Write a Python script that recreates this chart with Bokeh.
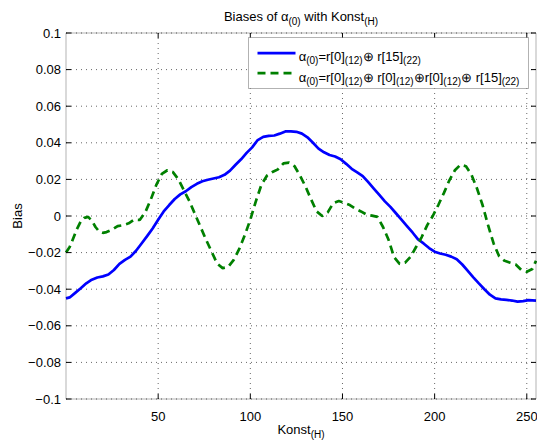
import math
from bokeh.plotting import figure
from bokeh.models import Range1d, Label, BoxAnnotation, Arrow
from bokeh.embed import file_html
from bokeh.resources import INLINE

# ---------------- data ----------------
konst_blue = [0, 2, 5, 8, 11, 14, 17, 20, 23, 26, 29, 32, 35, 38, 41, 44, 47, 50, 53, 56,
              59, 62, 65, 68, 71, 74, 77, 80, 83, 86, 89, 92, 95, 98, 101, 104, 107, 110,
              113, 116, 119, 122, 125, 128, 131, 134, 137, 140, 143, 146, 149, 152, 155,
              158, 161, 164, 167, 170, 173, 176, 179, 182, 185, 188, 191, 194, 197, 200,
              203, 206, 209, 212, 215, 218, 221, 224, 227, 230, 233, 236, 239, 242, 245,
              248, 251, 255]
bias_blue = [-0.0450, -0.0445, -0.0420, -0.0395, -0.0368, -0.0348, -0.0336, -0.0330,
             -0.0320, -0.0295, -0.0262, -0.0240, -0.0222, -0.0190, -0.0150, -0.0110,
             -0.0068, -0.0020, 0.0025, 0.0060, 0.0093, 0.0118, 0.0135, 0.0158, 0.0176,
             0.0190, 0.0198, 0.0205, 0.0212, 0.0225, 0.0248, 0.0280, 0.0310, 0.0345,
             0.0375, 0.0415, 0.0432, 0.0438, 0.0440, 0.0450, 0.0462, 0.0462, 0.0460,
             0.0450, 0.0430, 0.0400, 0.0368, 0.0348, 0.0333, 0.0325, 0.0310, 0.0285,
             0.0258, 0.0238, 0.0218, 0.0185, 0.0150, 0.0115, 0.0080, 0.0050, 0.0015,
             -0.0020, -0.0055, -0.0090, -0.0128, -0.0150, -0.0175, -0.0195, -0.0205,
             -0.0212, -0.0222, -0.0236, -0.0265, -0.0300, -0.0335, -0.0368, -0.0400,
             -0.0430, -0.0450, -0.0456, -0.0458, -0.0462, -0.0468, -0.0465, -0.0460,
             -0.0462]

konst_green = [0, 2, 4, 6, 8, 10, 12, 14, 16, 18, 20, 22, 25, 28, 31, 34, 37, 40, 43, 46,
               49, 52, 55, 58, 61, 64, 67, 70, 73, 76, 79, 82, 85, 88, 91, 94, 97, 100,
               103, 106, 109, 112, 115, 118, 121, 124, 127, 130, 133, 136, 139, 142, 145,
               148, 151, 154, 157, 160, 163, 166, 169, 172, 175, 178, 181, 184, 187, 190,
               193, 196, 199, 202, 205, 208, 211, 214, 217, 220, 223, 226, 229, 232, 235,
               238, 241, 244, 247, 250, 253, 255]
bias_green = [-0.0200, -0.0170, -0.0120, -0.0070, -0.0030, -0.0010, -0.0005, -0.0025,
              -0.0060, -0.0085, -0.0092, -0.0088, -0.0075, -0.0055, -0.0050, -0.0040,
              -0.0020, -0.0022, 0.0020, 0.0090, 0.0170, 0.0230, 0.0250, 0.0240, 0.0200,
              0.0140, 0.0080, 0.0010, -0.0060, -0.0130, -0.0195, -0.0260, -0.0285,
              -0.0278, -0.0240, -0.0180, -0.0105, -0.0020, 0.0080, 0.0170, 0.0220, 0.0240,
              0.0255, 0.0288, 0.0292, 0.0272, 0.0220, 0.0160, 0.0090, 0.0025, 0.0000,
              0.0020, 0.0070, 0.0082, 0.0072, 0.0060, 0.0040, 0.0025, 0.0008, 0.0002,
              -0.0005, -0.0060, -0.0130, -0.0225, -0.0262, -0.0255, -0.0222, -0.0168,
              -0.0115, -0.0050, 0.0000, 0.0060, 0.0125, 0.0195, 0.0250, 0.0280, 0.0272,
              0.0225, 0.0150, 0.0060, -0.0050, -0.0150, -0.0220, -0.0245, -0.0255,
              -0.0265, -0.0295, -0.0305, -0.0290, -0.0245]

x_lim = [0, 255]
y_lim = [-0.1, 0.1]
x_ticks = [50, 100, 150, 200, 250]
y_ticks = [-0.1, -0.08, -0.06, -0.04, -0.02, 0, 0.02, 0.04, 0.06, 0.08, 0.1]

title_parts = [("Biases of α", False), ("(0)", True), (" with Konst", False), ("(H)", True)]
xlabel_parts = [("Konst", False), ("(H)", True)]
ylabel_text = "Bias"
legend1_parts = [("α", False), ("(0)", True), ("=r[0]", False), ("(12)", True),
                 ("⊕ r[15]", False), ("(22)", True)]
legend2_parts = [("α", False), ("(0)", True), ("=r[0]", False), ("(12)", True),
                 ("⊕ r[0]", False), ("(12)", True), ("⊕r[0]", False), ("(12)", True),
                 ("⊕ r[15]", False), ("(22)", True)]

BLUE = "#0000ff"
GREEN = "#008000"
FONT = "Liberation Sans"
MAIN = 13
SUB = 10

# ---------------- layout (pixels) ----------------
W, H = 537, 446
PX_L, PX_R, PX_T, PX_B = 65.5, 535.5, 32.5, 398.5
sx = (PX_R - PX_L) / (x_lim[1] - x_lim[0])
sy = (PX_B - PX_T) / (y_lim[1] - y_lim[0])

p = figure(width=W, height=H,
           x_range=Range1d(x_lim[0] - PX_L / sx, x_lim[1] + (W - PX_R) / sx),
           y_range=Range1d(y_lim[0] - (H - PX_B) / sy, y_lim[1] + PX_T / sy),
           title=None, x_axis_location=None, y_axis_location=None, min_border=0,
           output_backend="svg", toolbar_location=None, tools="")
p.outline_line_color = None
p.background_fill_color = "white"
p.border_fill_color = "white"
for g in p.grid:
    g.visible = False

# grid (dotted), drawn from the tick arrays
p.segment(x0=x_ticks, y0=y_lim[0], x1=x_ticks, y1=y_lim[1], line_color="black",
          line_alpha=0.6, line_dash="1 4", line_width=1)
p.segment(x0=x_lim[0], y0=y_ticks, x1=x_lim[1], y1=y_ticks, line_color="black",
          line_alpha=0.6, line_dash="1 4", line_width=1)

# data lines
p.line(konst_blue, bias_blue, line_color=BLUE, line_width=2.7)
p.line(konst_green, bias_green, line_color=GREEN, line_width=2.7, line_dash="8 5")

# inward ticks on all four sides
TICK = 5
p.ray(x=x_ticks, y=y_lim[0], length=TICK, length_units="screen", angle=math.pi / 2,
      line_color="black", line_width=1)
p.ray(x=x_ticks, y=y_lim[1], length=TICK, length_units="screen", angle=-math.pi / 2,
      line_color="black", line_width=1)
p.ray(x=x_lim[0], y=y_ticks, length=TICK, length_units="screen", angle=0,
      line_color="black", line_width=1)
p.ray(x=x_lim[1], y=y_ticks, length=TICK, length_units="screen", angle=math.pi,
      line_color="black", line_width=1)

# axes box
p.add_layout(BoxAnnotation(left=x_lim[0], right=x_lim[1], bottom=y_lim[0], top=y_lim[1],
                           fill_color=None, line_color="black", line_width=1))

# ---------------- texts ----------------
def Y(py):  # canvas px (from top) -> screen units (from bottom)
    return H - py

def ytick_text(v):
    s = f"{abs(v):g}"
    return ("\u2212" + s) if v < 0 else s

for t in x_ticks:
    p.add_layout(Label(x=t, x_units="data", y=Y(416.3), y_units="screen", text=str(t),
                       text_font=FONT, text_font_size=f"{MAIN}px", text_align="center",
                       text_baseline="alphabetic", text_color="black"))
for t in y_ticks:
    p.add_layout(Label(x=60.5, x_units="screen", y=t, y_units="data", text=ytick_text(t),
                       text_font=FONT, text_font_size=f"{MAIN}px", text_align="right",
                       text_baseline="middle", text_color="black"))

WID = {' ': 278, '(': 333, ')': 333, '=': 584, 'r': 333, '[': 278, ']': 278, 'α': 570,
       '⊕': 838, 'B': 667, 'i': 222, 'a': 556, 's': 500, 'e': 556, 'o': 556, 'f': 278,
       'w': 722, 't': 278, 'h': 556, 'K': 667, 'n': 556, 'H': 722}

def tw(s, size):
    return sum(WID.get(c, 556) for c in s) * size / 1000.0

def parts_width(parts):
    return sum(tw(t, SUB if s else MAIN) for t, s in parts)

def place(parts, x0, base_py, drop=4):
    x = x0
    for t, is_sub in parts:
        size = SUB if is_sub else MAIN
        lead = len(t) - len(t.lstrip(" "))
        x += lead * WID[' '] * size / 1000.0
        core = t.strip(" ")
        p.add_layout(Label(x=x, y=Y(base_py + (drop if is_sub else 0)), x_units="screen",
                           y_units="screen", text=core, text_font=FONT,
                           text_font_size=f"{size}px", text_baseline="alphabetic",
                           text_align="left", text_color="black"))
        x += tw(core, size)
        trail = len(t) - len(t.rstrip(" "))
        x += trail * WID[' '] * size / 1000.0

cx = (PX_L + PX_R) / 2
place(title_parts, cx - parts_width(title_parts) / 2, 15.5, drop=5)
place(xlabel_parts, cx - parts_width(xlabel_parts) / 2, 429.0, drop=5)
p.add_layout(Label(x=16.7, y=Y(215.5), x_units="screen", y_units="screen", text=ylabel_text,
                   angle=math.pi / 2, text_font=FONT, text_font_size=f"{MAIN}px",
                   text_align="center", text_baseline="middle", text_color="black"))

# ---------------- legend ----------------
p.add_layout(BoxAnnotation(left=248, right=528, bottom=Y(88), top=Y(37), left_units="screen",
                           right_units="screen", bottom_units="screen", top_units="screen",
                           fill_color="white", fill_alpha=1, line_color="black",
                           line_width=1))
p.add_layout(Arrow(start=None, end=None, x_start=257, y_start=Y(52.7), x_end=295,
                   y_end=Y(52.7), start_units="screen", end_units="screen",
                   line_color=BLUE, line_width=2.7))
p.add_layout(Arrow(start=None, end=None, x_start=257, y_start=Y(72.7), x_end=295,
                   y_end=Y(72.7), start_units="screen", end_units="screen",
                   line_color=GREEN, line_width=2.7, line_dash="8 5"))
place(legend1_parts, 298.3, 56.3, drop=4)
place(legend2_parts, 298.3, 77.3, drop=4)

open("out.html", "w", encoding="utf-8").write(file_html(p, INLINE))
